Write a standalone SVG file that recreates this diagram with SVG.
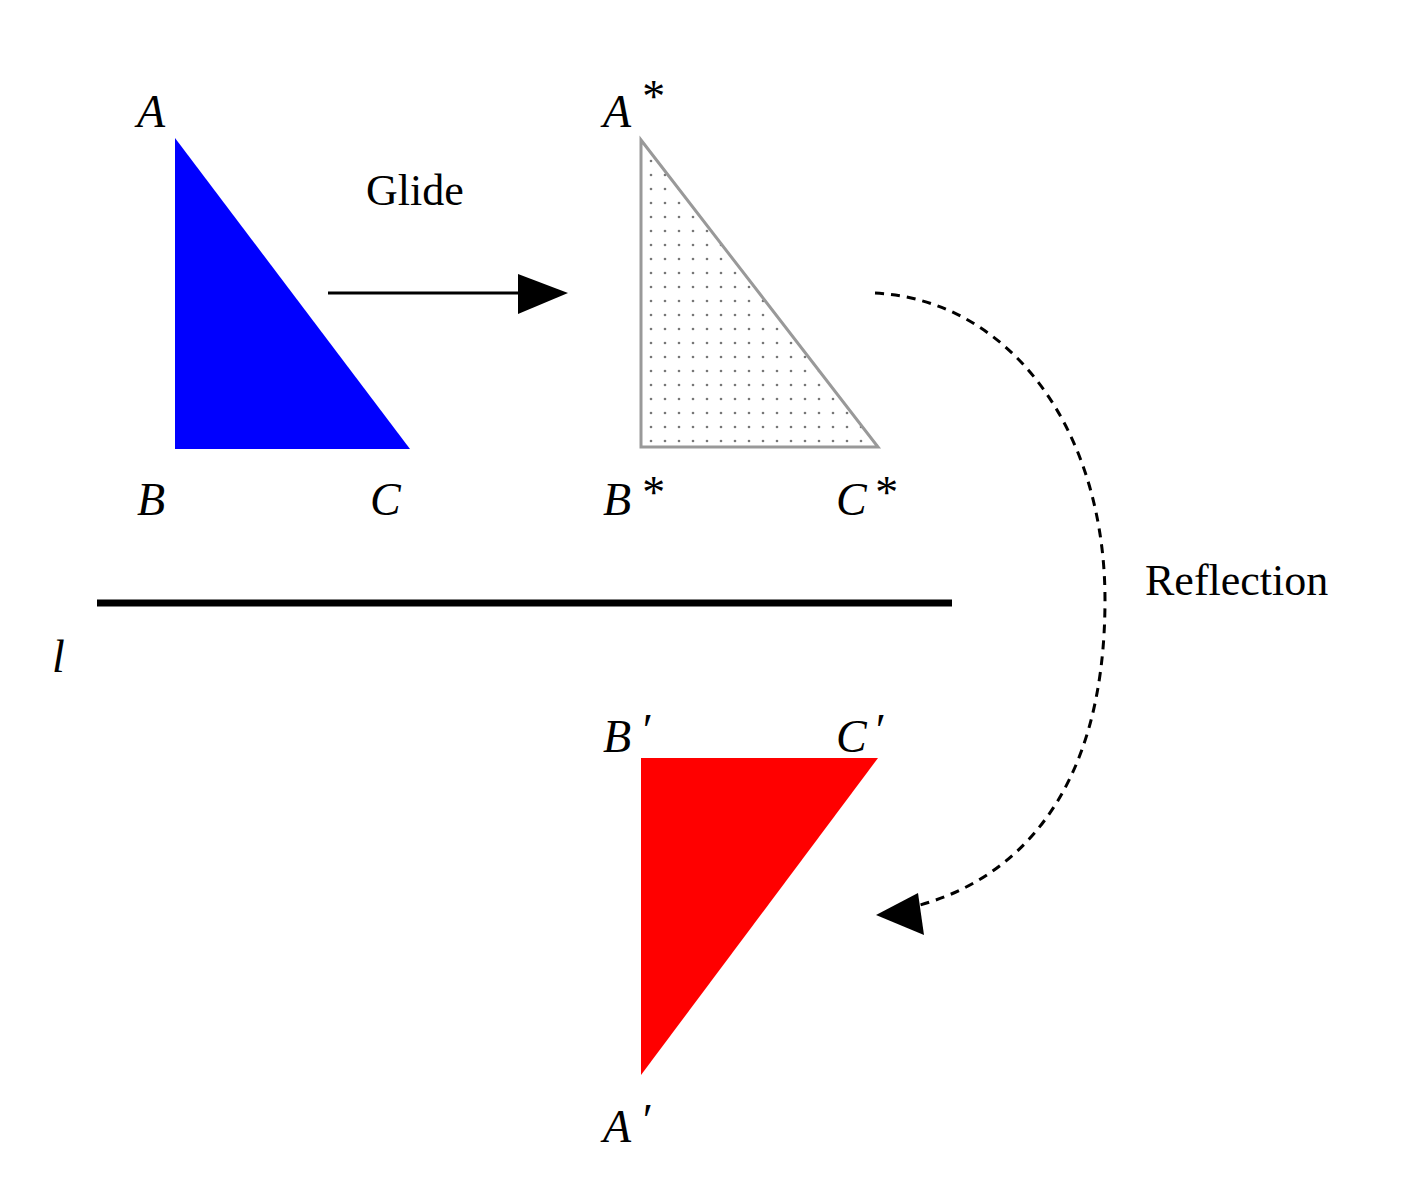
<svg xmlns="http://www.w3.org/2000/svg" width="1406" height="1200" viewBox="0 0 1406 1200">
<style>
.lab{font-family:"Liberation Serif",serif;font-style:italic;font-size:46px;fill:#000}
.txt{font-family:"Liberation Serif",serif;font-size:44px;fill:#000}
</style>
<defs>
<pattern id="dots" width="14" height="14" patternUnits="userSpaceOnUse">
<rect width="14" height="14" fill="#fff"/><circle cx="7" cy="7" r="1.3" fill="#777"/>
</pattern>
<marker id="ah" markerWidth="10" markerHeight="8" refX="9" refY="4" orient="auto" markerUnits="userSpaceOnUse" viewBox="0 0 10 8">
<path d="M0,0 L10,4 L0,8 Z" fill="#000"/>
</marker>
</defs>
<rect width="1406" height="1200" fill="#fff"/>
<g id="triangleABC"><polygon points="175,138 175,449 410,449" fill="#0000ff"/></g>
<g id="triangleStar"><polygon points="641,140 641,447 878,447" fill="url(#dots)" stroke="#999" stroke-width="3"/></g>
<g id="trianglePrime"><polygon points="641,758 878,758 641,1075" fill="#ff0000"/></g>
<g id="lineL"><line x1="97" y1="603" x2="952" y2="603" stroke="#000" stroke-width="7"/></g>
<g id="connectors">
<line x1="328" y1="293" x2="520" y2="293" stroke="#000" stroke-width="3"/>
<polygon points="518,274 568,293 518,314" fill="#000"/>
<path d="M875,293 C1010,300 1105,430 1105,600 C1105,800 1010,880 920,905" fill="none" stroke="#000" stroke-width="3" stroke-dasharray="9,7"/>
<polygon points="876,915 918,893 924,935" fill="#000"/>
</g>
<g id="labels">
<text class="lab" x="137" y="127">A</text>
<text class="lab" x="137" y="515">B</text>
<text class="lab" x="370" y="515">C</text>
<text class="lab" x="603" y="127">A</text><text class="lab" x="640" y="112" font-style="normal">*</text>
<text class="lab" x="603" y="515">B</text><text class="lab" x="640" y="508" font-style="normal">*</text>
<text class="lab" x="836" y="515">C</text><text class="lab" x="873" y="508" font-style="normal">*</text>
<text class="lab" x="603" y="752">B</text><text class="lab" x="640" y="746">′</text>
<text class="lab" x="836" y="752">C</text><text class="lab" x="873" y="746">′</text>
<text class="lab" x="603" y="1142">A</text><text class="lab" x="640" y="1136">′</text>
<text class="lab" x="52" y="672">l</text>
<text class="txt" x="366" y="205">Glide</text>
<text class="txt" x="1145" y="595">Reflection</text>
</g>
</svg>
